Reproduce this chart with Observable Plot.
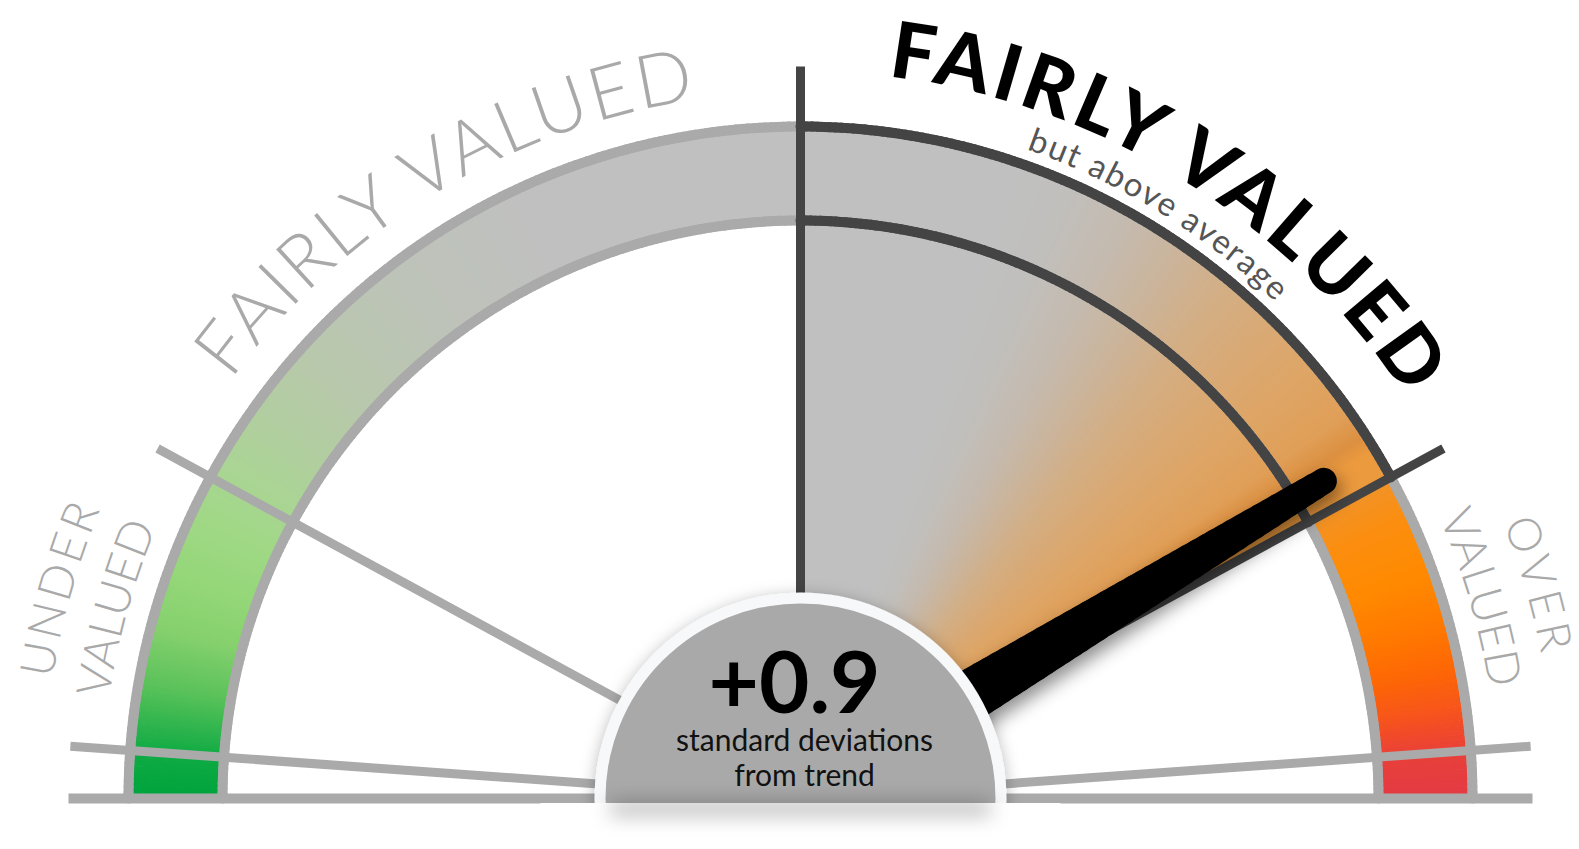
<!DOCTYPE html>
<html>
<head>
<meta charset="utf-8">
<script src="https://cdn.jsdelivr.net/npm/d3@7"></script>
<script src="https://cdn.jsdelivr.net/npm/@observablehq/plot@0.6"></script>
<style>
html,body{margin:0;padding:0;background:#fff;overflow:hidden}
#chart svg{display:block}
</style>
</head>
<body>
<div id="chart"></div>
<script>
// ---------------- DATA ----------------
const zoneNames = ["UNDER VALUED", "FAIRLY VALUED", "FAIRLY VALUED", "OVER VALUED"];
const zoneNotes = ["", "", "but above average", ""];
const zoneLow  = [-Infinity, -1, 0, 1];      // standard deviations from trend
const zoneHigh = [-1, 0, 1, Infinity];
const sdLines  = [-2, -1, 0, 1, 2];          // dial division lines (sd)
const reading  = 0.94;                       // needle position
const unitLines = ["standard deviations", "from trend"];

// ---------------- LAYOUT / STYLE ----------------
const W = 1579, H = 849, CX = 800, CY = 798;
const R_OUT = 672, R_IN = 578, R_LINE = 732, R_HUB = 200.5, HUB_RING = 11;
const GRAY = "#aaaaaa", DARK = "#444444";
const FONT = "Lato, 'Open Sans', 'Noto Sans', sans-serif";
const labelLayout = [
  {ang: [164.3, 164.5], r: [757, 698], size: [47, 47], weight: [300, 300], len: [176, 178], split: true},
  {ang: [121.1], r: [706], size: [74], weight: [300], len: [557], split: false},
  {ang: [58.3, 58.5], r: [727, 687], size: [78, 33], weight: [900, 400], len: [629, 294], split: false},
  {ang: [16.2, 16.4], r: [755, 698], size: [46, 47], weight: [300, 300], len: [136, 180], split: true}
];

const rad = d => d * Math.PI / 180;
const pol = (r, a) => [r * Math.cos(rad(a)), r * Math.sin(rad(a))];

// percentile dial: angle = 180 * (1 - Phi(z))
function Phi(z) {
  const t = 1 / (1 + 0.2316419 * Math.abs(z));
  const d = 0.3989423 * Math.exp(-z * z / 2);
  const p = d * t * (0.3193815 + t * (-0.3565638 + t * (1.781478 + t * (-1.821256 + t * 1.330274))));
  return z > 0 ? 1 - p : p;
}
const dial = z => 180 * (1 - Phi(z));

const hz = zoneLow.findIndex((lo, i) => reading >= lo && reading < zoneHigh[i]);
const hA0 = dial(zoneHigh[hz]), hA1 = dial(zoneLow[hz]);
const needleA = dial(reading);

const bandColor = d3.scaleLinear()
  .domain([0, 4, 6, 8, 11, 15, 20, 25, 29, 90, 115, 128, 138, 145, 150, 155, 160, 165, 170, 176, 180])
  .range(["#e33a44", "#e8403a", "#f04a2a", "#f7561a", "#fd6506", "#ff7800", "#ff8a00", "#fb8e10", "#f0932a",
          "#c0c0c0", "#c0c0c0", "#bdc3b8", "#b8c8ac", "#b1ce9f", "#aad594", "#a0d886", "#95d779", "#86d16e",
          "#5cc25a", "#0fab44", "#00a33c"]);
const glow = d3.scaleLinear()
  .domain([-10, 0, 1.5, 4, 9, 14, 19, 24, 29, 35, 40, 200])
  .range(["#ec9a3e", "#ec9a3e", "#dc9040", "#e09f58", "#dea566", "#d9a974", "#d3ae84", "#cbb49a",
          "#c5baae", "#c1bfbc", "#c0c0c0", "#c0c0c0"]).clamp(true);

// ---------------- GEOMETRY ROWS (radial strokes / chords) ----------------
const STEP = 0.25;
const spokes = [];   // {a, r0, r1, c}
function spokeRange(a0, a1, r0, r1, colorOf) {
  const n = Math.max(1, Math.ceil((a1 - a0) / STEP));
  for (let i = 0; i <= n; i++) {
    const a = a0 + (a1 - a0) * i / n;
    spokes.push({a, r0, r1, c: colorOf(a)});
  }
}
spokeRange(0.15, hA0, R_IN, R_OUT, a => bandColor(a));
spokeRange(hA1, 179.85, R_IN, R_OUT, a => bandColor(a));
spokeRange(hA0, hA1, 150, R_OUT, a => glow(a - needleA));

const chords = [];   // {a0, a1, r, c}
function arcChords(r, a0, a1, c) {
  const n = Math.ceil((a1 - a0) / 0.5);
  for (let i = 0; i < n; i++) chords.push({r, c, a0: a0 + (a1 - a0) * i / n, a1: a0 + (a1 - a0) * (i + 1) / n});
}
arcChords(R_OUT, 0, 180, GRAY);
arcChords(R_IN, 0, 180, GRAY);
arcChords(R_OUT, hA0, hA1, DARK);
arcChords(R_IN, hA0, hA1, DARK);

// needle: tapered stroke built from short segments
const needleSegs = [];
{
  const TIP = 612, TW = 26, BW = 64, R0 = -10, N = 60;
  for (let i = 0; i < N; i++) {
    const s = R0 + (TIP - R0) * i / N, e = R0 + (TIP - R0) * (i + 1) / N;
    const m = (s + e) / 2;
    needleSegs.push({s, e, w: BW + (TW - BW) * (m - R0) / (TIP - R0)});
  }
}

const lineColor = z => (z === zoneLow[hz] || z === zoneHigh[hz]) ? DARK : GRAY;

// ---------------- PLOT ----------------
const svg = Plot.plot({
  width: W, height: H, margin: 0,
  x: {domain: [-CX, W - CX], axis: null},
  y: {domain: [CY - H, CY], axis: null},
  color: {type: "identity"},
  style: {background: "#ffffff", fontFamily: FONT, overflow: "hidden"},
  marks: [
    // 0 coloured band and highlighted zone
    Plot.link(spokes, {
      x1: d => pol(d.r0, d.a)[0], y1: d => pol(d.r0, d.a)[1],
      x2: d => pol(d.r1, d.a)[0], y2: d => pol(d.r1, d.a)[1],
      stroke: "c", strokeWidth: 3.6
    }),
    // 1 outer / inner arcs
    Plot.link(chords, {
      x1: d => pol(d.r, d.a0)[0], y1: d => pol(d.r, d.a0)[1],
      x2: d => pol(d.r, d.a1)[0], y2: d => pol(d.r, d.a1)[1],
      stroke: "c", strokeWidth: 10, strokeLinecap: "round"
    }),
    // 2 division lines
    Plot.link(sdLines, {
      x1: () => 0, y1: () => 0,
      x2: d => pol(R_LINE, dial(d))[0], y2: d => pol(R_LINE, dial(d))[1],
      stroke: d => lineColor(d), strokeWidth: 9
    }),
    // 3 baseline
    Plot.link([0], {x1: () => -R_LINE, x2: () => R_LINE, y1: () => 0, y2: () => 0, stroke: GRAY, strokeWidth: 10}),
    // 4 needle
    Plot.link(needleSegs, {
      x1: d => pol(d.s, needleA)[0], y1: d => pol(d.s, needleA)[1],
      x2: d => pol(d.e, needleA)[0], y2: d => pol(d.e, needleA)[1],
      stroke: "#000", strokeWidth: d => d.w, strokeLinecap: "round"
    }),
    // 5 hub
    Plot.dot([0], {x: () => 0, y: () => 0, r: R_HUB, fill: "#a9a9a9", stroke: "#f7f8fa", strokeWidth: HUB_RING}),
    // 6 cover lower half of the hub
    Plot.link([0], {x1: () => -260, x2: () => 260, y1: () => -40, y2: () => -40, stroke: "#fff", strokeWidth: 71}),
    // 7 soft shadow under the hub
    Plot.link([0], {x1: () => -190, x2: () => 190, y1: () => -10, y2: () => -10, stroke: "#000", strokeOpacity: 0.32, strokeWidth: 12}),
    // hub text
    Plot.text([d3.format("+.1f")(reading)], {x: () => -6, y: () => 86, text: d => d, fontSize: 87, fontWeight: 700, fill: "#000", lineAnchor: "bottom", fontFamily: FONT}),
    Plot.text([unitLines[0]], {x: () => 4, y: () => 48, text: d => d, fontSize: 30, fill: "#111", lineAnchor: "bottom", fontFamily: FONT}),
    Plot.text([unitLines[1]], {x: () => 4, y: () => 13, text: d => d, fontSize: 30, fill: "#111", lineAnchor: "bottom", fontFamily: FONT})
  ]
});
document.getElementById("chart").append(svg);

// ---------------- EFFECTS + CURVED LABELS ----------------
const X = svg.scale("x"), Y = svg.scale("y");
const root = d3.select(svg);
const defs = root.insert("defs", ":first-child");
function filt(id) {
  return defs.append("filter").attr("id", id).attr("filterUnits", "userSpaceOnUse")
    .attr("x", 0).attr("y", 0).attr("width", W).attr("height", H);
}
filt("needleShadow").append("feDropShadow").attr("dx", 4).attr("dy", 8).attr("stdDeviation", 9)
  .attr("flood-color", "#000").attr("flood-opacity", 0.45);
filt("hubShadow").append("feDropShadow").attr("dx", 0).attr("dy", 3).attr("stdDeviation", 8)
  .attr("flood-color", "#000").attr("flood-opacity", 0.28);
filt("blur").append("feGaussianBlur").attr("stdDeviation", 10);

const groups = Array.from(svg.children).filter(n => n.tagName.toLowerCase() === "g");
if (groups[4]) groups[4].setAttribute("filter", "url(#needleShadow)");
if (groups[5]) groups[5].setAttribute("filter", "url(#hubShadow)");
if (groups[7]) groups[7].setAttribute("filter", "url(#blur)");

const labels = [];
zoneNames.forEach((name, i) => {
  const L = labelLayout[i];
  const highlighted = i === hz;
  const lines = L.split ? name.split(" ") : [name];
  if (zoneNotes[i]) lines.push(zoneNotes[i]);
  lines.forEach((t, k) => labels.push({
    text: t, ang: L.ang[k], r: L.r[k], size: L.size[k], weight: L.weight[k], len: L.len[k],
    color: highlighted ? (k === 0 ? "#000000" : "#555555") : "#a9a9a9"
  }));
});

const lg = root.append("g").attr("aria-label", "zone-labels");
const HALF = 70;
labels.forEach((L, i) => {
  const [x1, y1] = pol(L.r, L.ang + HALF), [x2, y2] = pol(L.r, L.ang - HALF);
  const d = `M${X.apply(x1)},${Y.apply(y1)}A${L.r},${L.r} 0 0 1 ${X.apply(x2)},${Y.apply(y2)}`;
  defs.append("path").attr("id", "lp" + i).attr("d", d);
  const pathLen = L.r * rad(2 * HALF);
  const t = lg.append("text")
    .attr("font-family", FONT).attr("font-size", L.size).attr("font-weight", L.weight)
    .attr("fill", L.color).attr("text-anchor", "middle");
  const tp = t.append("textPath").attr("href", "#lp" + i).attr("startOffset", pathLen / 2).text(L.text);
  const nat = t.node().getComputedTextLength();
  const ls = (L.len - nat) / Math.max(1, L.text.length - 1);
  t.attr("letter-spacing", ls);
  tp.attr("startOffset", pathLen / 2 + ls / 2);
});
</script>
</body>
</html>
